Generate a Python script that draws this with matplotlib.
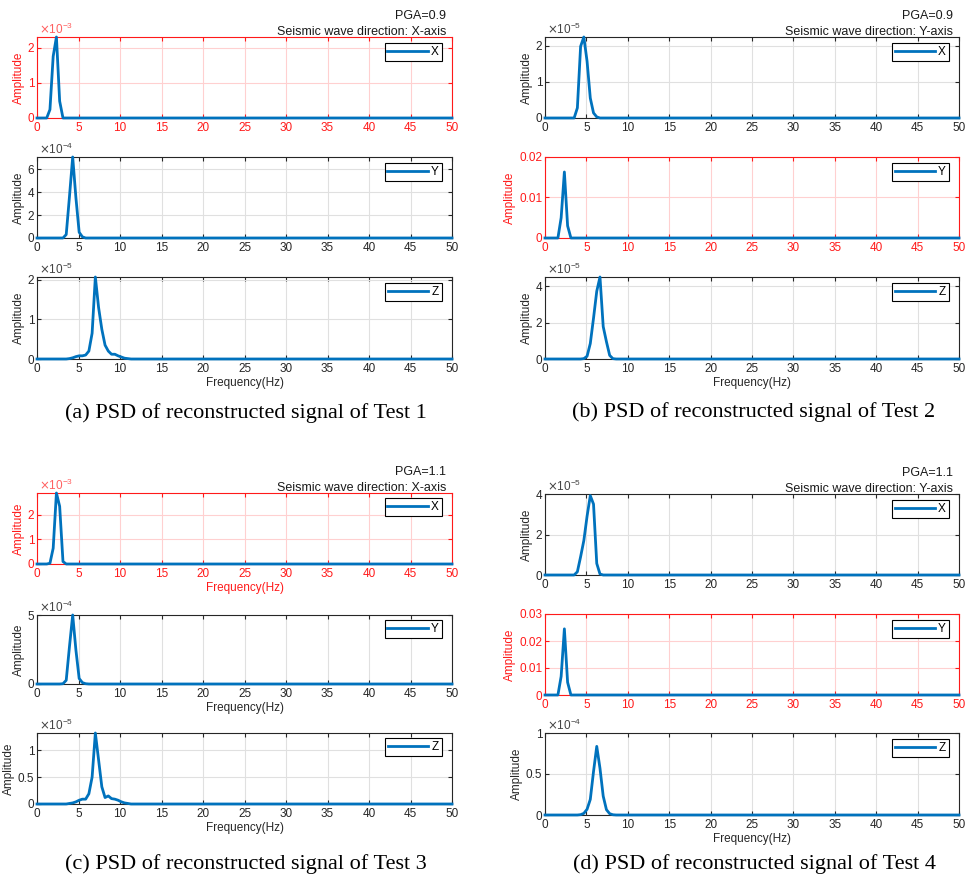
import numpy as np
import matplotlib.pyplot as plt

plt.rcParams['font.family'] = ['Liberation Sans', 'DejaVu Sans']

# PSD of reconstructed signals, frequency bins in Hz
# Test 1: PGA=0.9, X-axis excitation
t1_x_freq = [0, 1.17, 1.56, 1.95, 2.34, 2.73, 3.13, 50]
t1_x_amp = np.array([0, 0, 0.24, 1.76, 2.31, 0.48, 0, 0]) * 1e-3
t1_y_freq = [0, 3.13, 3.52, 3.91, 4.30, 4.69, 5.08, 5.47, 5.86, 50]
t1_y_amp = np.array([0, 0, 0.3, 3.6, 7.07, 3.5, 0.5, 0.1, 0, 0]) * 1e-4
t1_z_freq = [0, 3.52, 3.91, 4.30, 4.69, 5.08, 5.47, 5.86, 6.25, 6.64, 7.03, 7.42,
             7.81, 8.20, 8.59, 8.98, 9.38, 9.77, 10.16, 10.55, 10.94, 11.33, 50]
t1_z_amp = np.array([0, 0, 0.01, 0.03, 0.06, 0.08, 0.08, 0.1, 0.2, 0.65, 2.07, 1.3,
                     0.75, 0.35, 0.2, 0.12, 0.12, 0.08, 0.05, 0.02, 0.01, 0, 0]) * 1e-5

# Test 2: PGA=0.9, Y-axis excitation
t2_x_freq = [0, 3.52, 3.91, 4.30, 4.69, 5.08, 5.47, 5.86, 6.25, 6.64, 50]
t2_x_amp = np.array([0, 0, 0.28, 1.98, 2.24, 1.57, 0.55, 0.14, 0.03, 0, 0]) * 1e-5
t2_y_freq = [0, 1.56, 1.95, 2.34, 2.73, 3.13, 50]
t2_y_amp = [0, 0, 0.005, 0.0163, 0.003, 0, 0]
t2_z_freq = [0, 4.30, 4.69, 5.08, 5.47, 5.86, 6.25, 6.64, 7.03, 7.42, 7.81, 8.20, 8.59, 50]
t2_z_amp = np.array([0, 0, 0.02, 0.15, 0.85, 2.24, 3.72, 4.5, 1.78, 0.95, 0.2, 0.02, 0, 0]) * 1e-5

# Test 3: PGA=1.1, X-axis excitation
t3_x_freq = [0, 1.17, 1.56, 1.95, 2.34, 2.73, 3.13, 3.52, 50]
t3_x_amp = np.array([0, 0, 0.03, 0.64, 2.88, 2.34, 0.1, 0, 0]) * 1e-3
t3_y_freq = [0, 2.73, 3.13, 3.52, 3.91, 4.30, 4.69, 5.08, 5.47, 5.86, 6.25, 50]
t3_y_amp = np.array([0, 0, 0.02, 0.27, 2.7, 5.0, 2.45, 0.4, 0.1, 0.02, 0, 0]) * 1e-4
t3_z_freq = [0, 3.52, 3.91, 4.30, 4.69, 5.08, 5.47, 5.86, 6.25, 6.64, 7.03, 7.42,
             7.81, 8.20, 8.59, 8.98, 9.38, 9.77, 10.16, 10.55, 10.94, 11.33, 50]
t3_z_amp = np.array([0, 0, 0.01, 0.02, 0.04, 0.07, 0.09, 0.09, 0.19, 0.5, 1.32, 0.82,
                     0.32, 0.12, 0.15, 0.1, 0.09, 0.07, 0.04, 0.02, 0.01, 0, 0]) * 1e-5

# Test 4: PGA=1.1, Y-axis excitation
t4_x_freq = [0, 3.52, 3.91, 4.30, 4.69, 5.08, 5.47, 5.86, 6.25, 6.64, 7.03, 50]
t4_x_amp = np.array([0, 0, 0.16, 0.9, 1.7, 2.9, 3.92, 3.5, 0.57, 0.05, 0, 0]) * 1e-5
t4_y_freq = [0, 1.56, 1.95, 2.34, 2.73, 3.13, 50]
t4_y_amp = [0, 0, 0.0069, 0.0245, 0.0047, 0, 0]
t4_z_freq = [0, 3.91, 4.30, 4.69, 5.08, 5.47, 5.86, 6.25, 6.64, 7.03, 7.42, 7.81, 8.20, 8.59, 50]
t4_z_amp = np.array([0, 0, 0.004, 0.02, 0.07, 0.19, 0.53, 0.837, 0.57, 0.23, 0.065,
                     0.016, 0.003, 0, 0]) * 1e-4

captions = ['(a) PSD of reconstructed signal of Test 1',
            '(b) PSD of reconstructed signal of Test 2',
            '(c) PSD of reconstructed signal of Test 3',
            '(d) PSD of reconstructed signal of Test 4']

W, H = 971, 889
fig = plt.figure(figsize=(W / 100, H / 100), dpi=100)

BLUE = '#0072BD'
DARK = '#262626'
RED = '#ff1a1a'
FS = 8.5
TICK_FS = 8.5


def add_ax(left, right, top, bottom):
    return fig.add_axes([left / W, 1 - bottom / H, (right - left) / W, (bottom - top) / H])


def draw(ax, freq, amp, name, ymax, yticks, red=False, exp=None, xlabel=False, header=None):
    col = RED if red else DARK
    ax.plot(freq, amp, color=BLUE, lw=2, label=name, clip_on=False, zorder=5)
    ax.set_xlim(0, 50)
    ax.set_ylim(0, ymax)
    ax.set_xticks(np.arange(0, 51, 5))
    ax.set_yticks(yticks)
    scale = 10.0 ** exp if exp else 1.0
    ax.set_yticklabels(['%g' % round(v / scale, 6) for v in yticks])
    if exp:
        # exponent marker above the top-left corner
        ax.text(0.005, 1.0, r'$\times\mathregular{10^{%d}}$' % exp, transform=ax.transAxes,
                ha='left', va='bottom', fontsize=FS, color='#ff6060' if red else '#444444')
    ax.grid(True, color='#ffd0d0' if red else '#e0e0e0', lw=0.8)
    ax.set_axisbelow(True)
    for s in ax.spines.values():
        s.set_color(col)
        s.set_linewidth(0.8)
    ax.tick_params(direction='in', length=3, width=0.8, top=True, right=True,
                   colors=col, labelsize=TICK_FS)
    ax.tick_params(axis='x', pad=3)
    ax.tick_params(axis='y', pad=2)
    ax.set_ylabel('Amplitude', color=col, fontsize=FS, labelpad=2)
    if xlabel:
        ax.set_xlabel('Frequency(Hz)', color=col, fontsize=FS, labelpad=1)
    leg = ax.legend(loc='upper right', bbox_to_anchor=(1 - 10 / 415, 1 - 6 / 81),
                    borderaxespad=0, fontsize=FS, handlelength=3.4, handletextpad=0.3,
                    borderpad=0.25, fancybox=False, framealpha=1)
    leg.get_frame().set_edgecolor('black')
    leg.get_frame().set_linewidth(0.8)
    if header:
        ax.text(1 - 6 / 415, 0.99, header, transform=ax.transAxes, ha='right', va='bottom',
                fontsize=9, color='#1a1a1a', linespacing=1.45)


# panel (a)
ax = add_ax(37, 452, 37, 118)
draw(ax, t1_x_freq, t1_x_amp, 'X', 2.31e-3, [0, 1e-3, 2e-3], red=True, exp=-3,
     header='PGA=0.9\nSeismic wave direction: X-axis')
ax = add_ax(37, 452, 157, 238)
draw(ax, t1_y_freq, t1_y_amp, 'Y', 7.07e-4, [0, 2e-4, 4e-4, 6e-4], exp=-4)
ax = add_ax(37, 452, 277, 359)
draw(ax, t1_z_freq, t1_z_amp, 'Z', 2.07e-5, [0, 1e-5, 2e-5], exp=-5, xlabel=True)

# panel (b)
ax = add_ax(545, 959, 37, 118)
draw(ax, t2_x_freq, t2_x_amp, 'X', 2.24e-5, [0, 1e-5, 2e-5], exp=-5,
     header='PGA=0.9\nSeismic wave direction: Y-axis')
ax = add_ax(545, 959, 157, 238)
draw(ax, t2_y_freq, t2_y_amp, 'Y', 0.02, [0, 0.01, 0.02], red=True)
ax = add_ax(545, 959, 277, 359)
draw(ax, t2_z_freq, t2_z_amp, 'Z', 4.5e-5, [0, 2e-5, 4e-5], exp=-5, xlabel=True)

# panel (c)
ax = add_ax(37, 452, 493, 564)
draw(ax, t3_x_freq, t3_x_amp, 'X', 2.88e-3, [0, 1e-3, 2e-3], red=True, exp=-3, xlabel=True,
     header='PGA=1.1\nSeismic wave direction: X-axis')
ax = add_ax(37, 452, 615, 684)
draw(ax, t3_y_freq, t3_y_amp, 'Y', 5e-4, [0, 5e-4], exp=-4, xlabel=True)
ax = add_ax(37, 452, 733, 804)
draw(ax, t3_z_freq, t3_z_amp, 'Z', 1.32e-5, [0, 0.5e-5, 1e-5], exp=-5, xlabel=True)

# panel (d)
ax = add_ax(545, 959, 494, 575)
draw(ax, t4_x_freq, t4_x_amp, 'X', 4e-5, [0, 2e-5, 4e-5], exp=-5,
     header='PGA=1.1\nSeismic wave direction: Y-axis')
ax = add_ax(545, 959, 614, 695)
draw(ax, t4_y_freq, t4_y_amp, 'Y', 0.03, [0, 0.01, 0.02, 0.03], red=True)
ax = add_ax(545, 959, 733, 815)
draw(ax, t4_z_freq, t4_z_amp, 'Z', 1e-4, [0, 0.5e-4, 1e-4], exp=-4, xlabel=True)

# captions under each panel
for cap, (cx, cy) in zip(captions, [(246, 413), (754, 412), (246, 864), (754, 864)]):
    fig.text(cx / W, 1 - cy / H, cap, ha='center', va='center', fontsize=16,
             family='Liberation Serif', color='black')

fig.savefig('out.png', dpi=100, facecolor='white')
